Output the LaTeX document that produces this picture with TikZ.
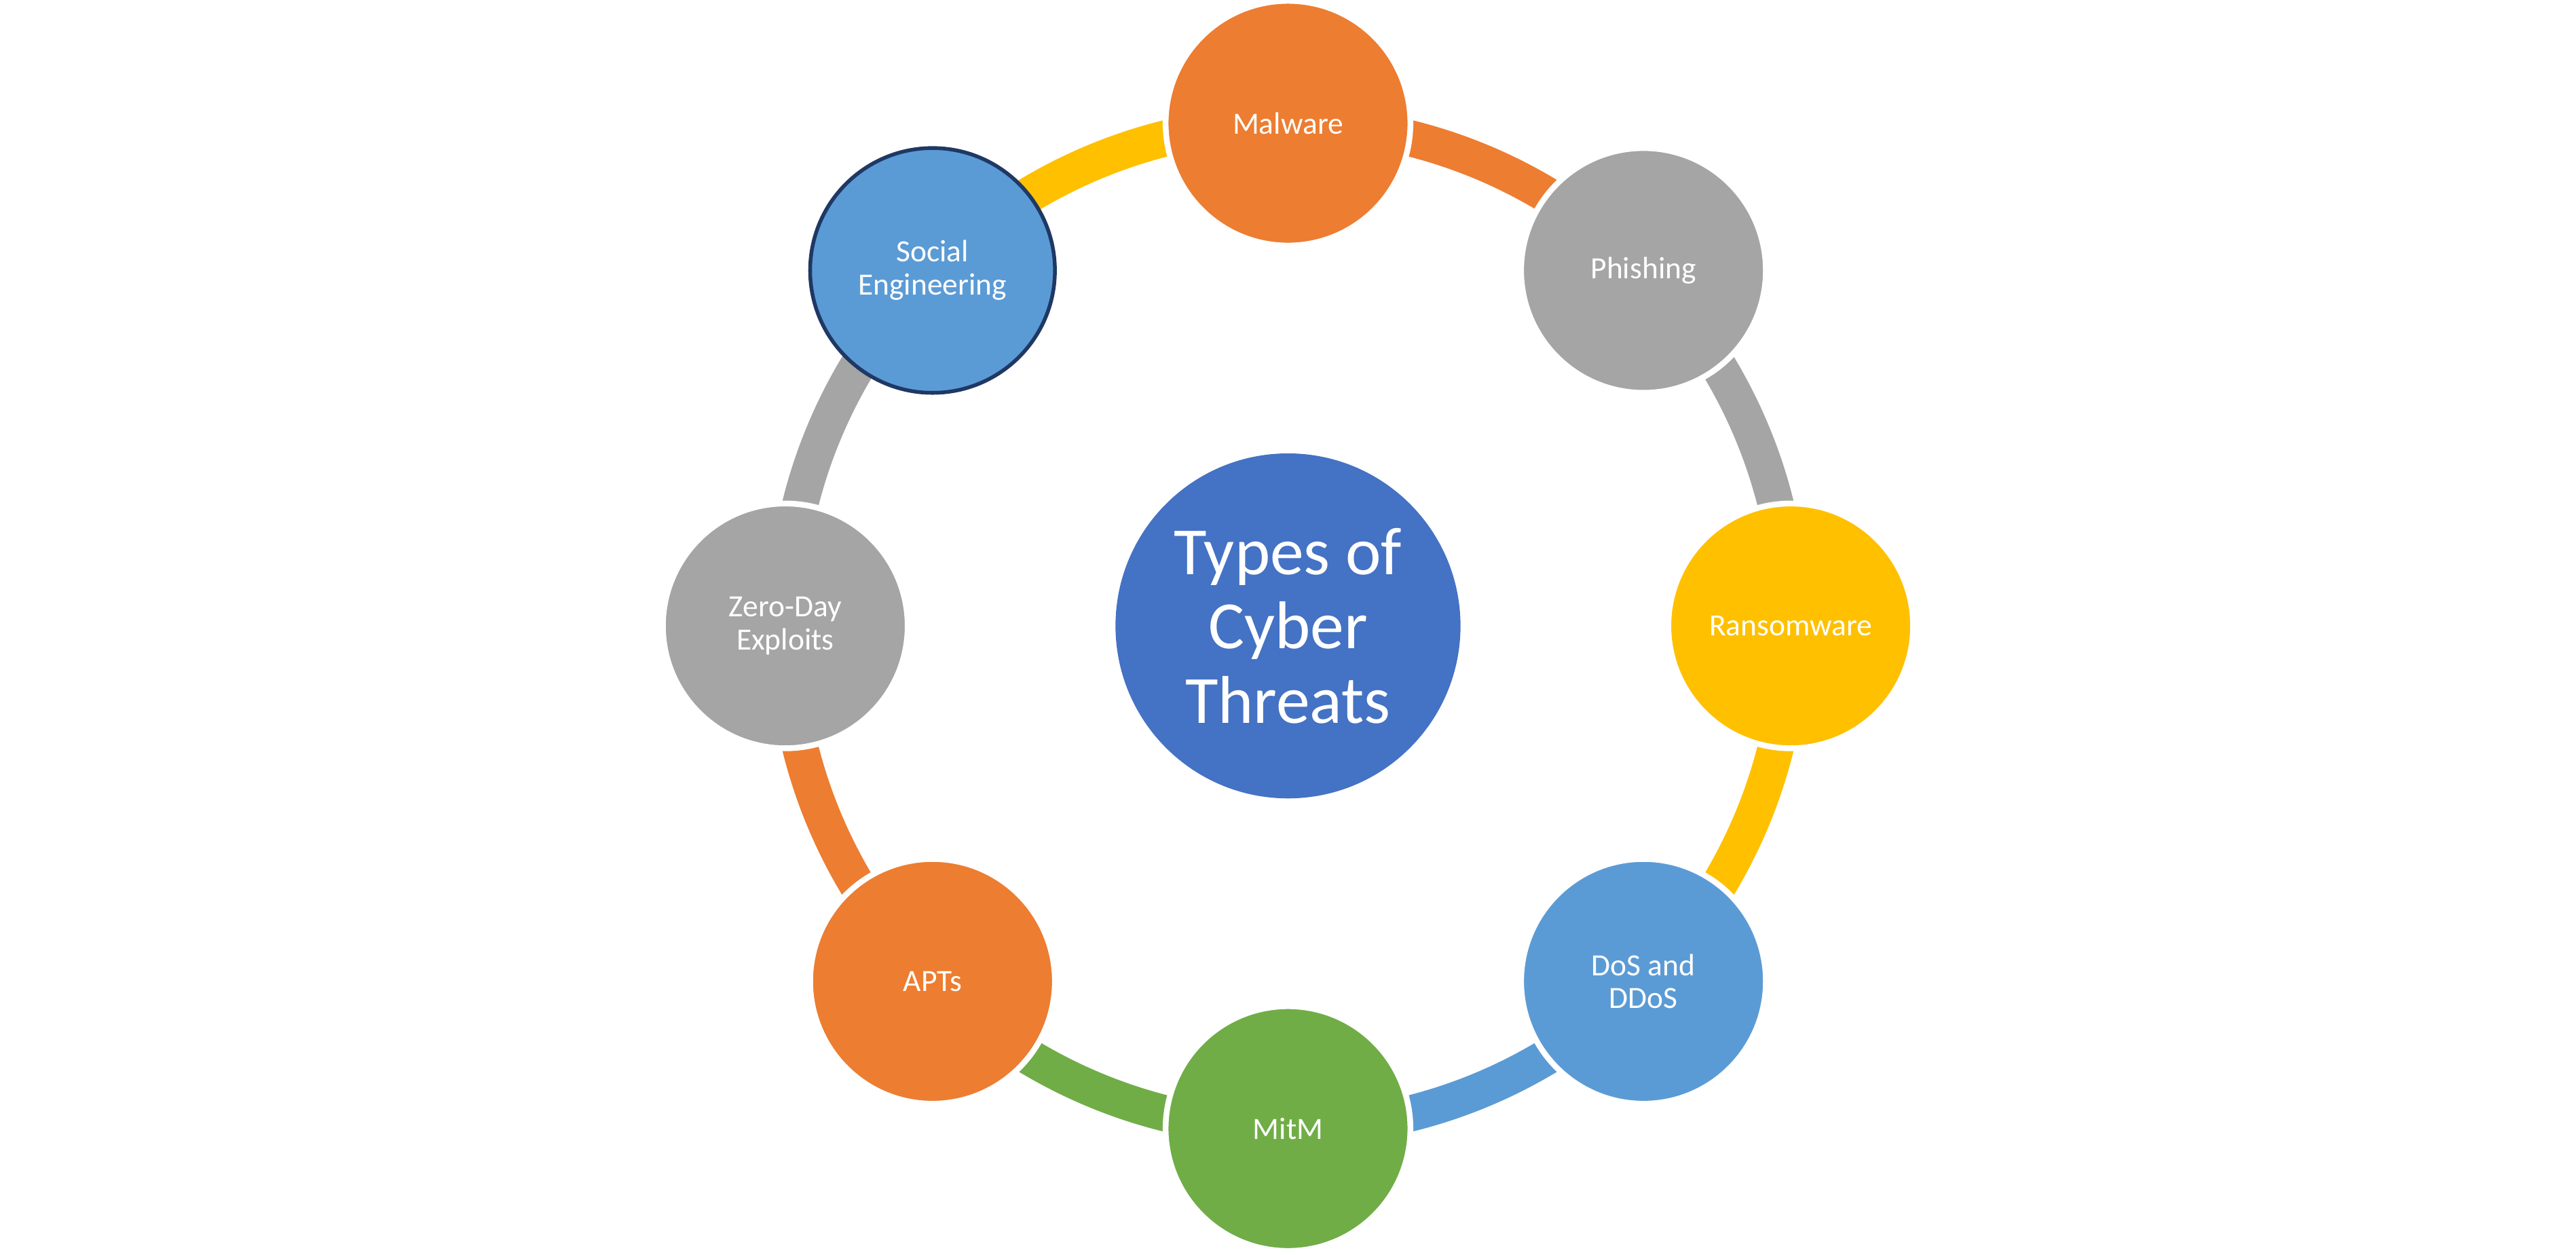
\documentclass[tikz,border=0pt]{standalone}
\usepackage{fontspec}
\setmainfont{Carlito}

\definecolor{cOrange}{HTML}{ED7D31}
\definecolor{cGray}{HTML}{A5A5A5}
\definecolor{cYellow}{HTML}{FFC000}
\definecolor{cBlue}{HTML}{5B9BD5}
\definecolor{cGreen}{HTML}{70AD47}
\definecolor{cCore}{HTML}{4472C4}
\definecolor{cNavy}{RGB}{31,56,100}

\tikzset{
  ring/.style={line width=0.44cm},
  threat/.style={circle, fill=#1, draw=white, line width=2pt, minimum size=2.98cm,
    inner sep=0pt, align=center, text=white, font=\fontsize{10.7}{11.5}\selectfont},
  core/.style={circle, fill=cCore, minimum size=4.2cm, inner sep=0pt, align=center,
    text=white, font=\fontsize{23.4}{25.7}\selectfont}
}

\begin{document}
\begin{tikzpicture}[scale=1.0]
  \useasboundingbox (-15.68, -7.651) rectangle (15.68, 7.62);

  \coordinate (O)   at (0, 0);
  \coordinate (pMal) at (90:6.12);
  \coordinate (pPhi) at (45:6.12);
  \coordinate (pRan) at (0:6.12);
  \coordinate (pDos) at (-45:6.12);
  \coordinate (pMit) at (-90:6.12);
  \coordinate (pApt) at (-135:6.12);
  \coordinate (pZer) at (180:6.12);
  \coordinate (pSoc) at (135:6.12);

  % ring segments, clockwise
  \draw[ring, cOrange] (pMal) arc[start angle=90,   end angle=45,   radius=6.12cm];
  \draw[ring, cGray]   (pPhi) arc[start angle=45,   end angle=0,    radius=6.12cm];
  \draw[ring, cYellow] (pRan) arc[start angle=0,    end angle=-45,  radius=6.12cm];
  \draw[ring, cBlue]   (pDos) arc[start angle=-45,  end angle=-90,  radius=6.12cm];
  \draw[ring, cGreen]  (pMit) arc[start angle=-90,  end angle=-135, radius=6.12cm];
  \draw[ring, cOrange] (pApt) arc[start angle=-135, end angle=-180, radius=6.12cm];
  \draw[ring, cGray]   (pZer) arc[start angle=180,  end angle=135,  radius=6.12cm];
  \draw[ring, cYellow] (pSoc) arc[start angle=135,  end angle=90,   radius=6.12cm];

  \node[core] (core) at (O) {Types of\\Cyber\\Threats};

  \node[threat=cOrange] (mal) at (pMal) {Malware};
  \node[threat=cGray]   (phi) at (pPhi) {Phishing};
  \node[threat=cYellow] (ran) at (pRan) {Ransomware};
  \node[threat=cBlue]   (dos) at (pDos) {DoS and\\DDoS};
  \node[threat=cGreen]  (mit) at (pMit) {MitM};
  \node[threat=cOrange] (apt) at (pApt) {APTs};
  \node[threat=cGray]   (zer) at (pZer) {Zero-Day\\Exploits};
  \node[threat=cBlue, draw=cNavy, line width=1.3pt] (soc) at (pSoc) {Social\\Engineering};
\end{tikzpicture}
\end{document}
